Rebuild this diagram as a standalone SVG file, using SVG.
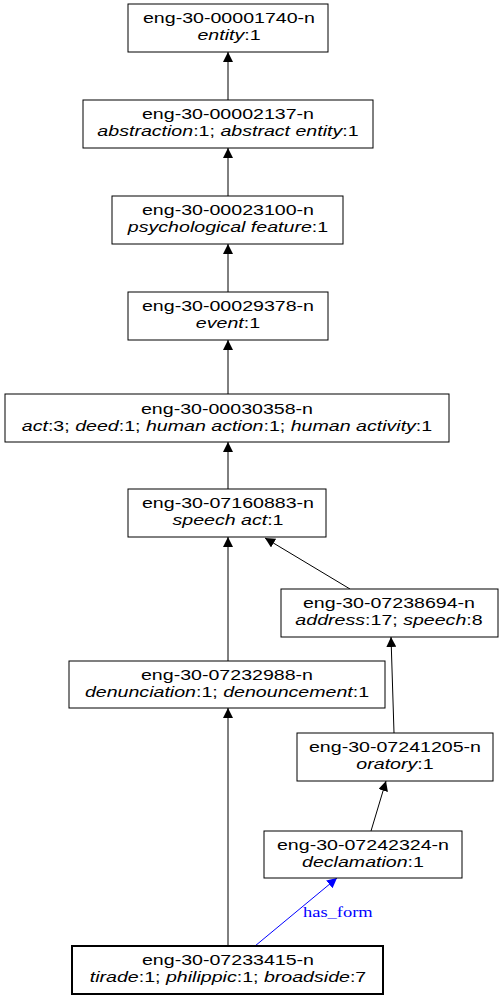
<svg xmlns="http://www.w3.org/2000/svg" width="504" height="1000" viewBox="0 0 504 1000">
<style>
.box{fill:#fff;stroke:#000;stroke-width:1}
.bold{stroke-width:2}
text{font-family:"Liberation Sans",Arial,sans-serif;font-size:14px;text-anchor:middle;fill:#000}
.i{font-style:italic}
.e{stroke:#000;stroke-width:1;fill:none}
.blue{stroke:#0000ff}
.lbl{font-family:"Liberation Serif","Times New Roman",serif;fill:#0000ff;font-size:14px;text-anchor:start}
</style>
<defs>
<marker id="ah" markerUnits="userSpaceOnUse" markerWidth="12" markerHeight="10" refX="10" refY="5" orient="auto">
<path d="M0,0 L10,5 L0,10 z" fill="#000"/>
</marker>
<marker id="ahb" markerUnits="userSpaceOnUse" markerWidth="12" markerHeight="10" refX="10" refY="5" orient="auto">
<path d="M0,0 L10,5 L0,10 z" fill="#0000ff"/>
</marker>
</defs>
<g id="edges">
<line class="e" x1="228" y1="100" x2="228" y2="52" marker-end="url(#ah)"/>
<line class="e" x1="228" y1="196" x2="228" y2="148" marker-end="url(#ah)"/>
<line class="e" x1="228" y1="292" x2="228" y2="244" marker-end="url(#ah)"/>
<line class="e" x1="228" y1="394" x2="228" y2="340" marker-end="url(#ah)"/>
<line class="e" x1="228" y1="489" x2="228" y2="442" marker-end="url(#ah)"/>
<line class="e" x1="350" y1="589" x2="265" y2="538" marker-end="url(#ah)"/>
<line class="e" x1="228" y1="661" x2="228" y2="537" marker-end="url(#ah)"/>
<line class="e" x1="394" y1="733" x2="391" y2="637" marker-end="url(#ah)"/>
<line class="e" x1="371" y1="831" x2="386" y2="781" marker-end="url(#ah)"/>
<line class="e" x1="228" y1="946" x2="228" y2="708" marker-end="url(#ah)"/>
<line class="e blue" x1="255" y1="946" x2="337" y2="878" marker-end="url(#ahb)"/>
<text class="lbl" transform="translate(303,917) scale(1.32,1)">has_form</text>
</g>
<g id="n00001740">
<rect class="box" x="128" y="4" width="200" height="48"/>
<g transform="translate(229,0) scale(1.4,1)">
<text x="0" y="23">eng-30-00001740-n</text>
<text x="0" y="40"><tspan class="i">entity</tspan>:1</text>
</g>
</g>
<g id="n00002137">
<rect class="box" x="83" y="100" width="290" height="48"/>
<g transform="translate(228,0) scale(1.4,1)">
<text x="0" y="119">eng-30-00002137-n</text>
<text x="0" y="136"><tspan class="i">abstraction</tspan>:1; <tspan class="i">abstract entity</tspan>:1</text>
</g>
</g>
<g id="n00023100">
<rect class="box" x="112" y="196" width="231" height="48"/>
<g transform="translate(228,0) scale(1.4,1)">
<text x="0" y="215">eng-30-00023100-n</text>
<text x="0" y="232"><tspan class="i">psychological feature</tspan>:1</text>
</g>
</g>
<g id="n00029378">
<rect class="box" x="128" y="292" width="200" height="48"/>
<g transform="translate(228,0) scale(1.4,1)">
<text x="0" y="311">eng-30-00029378-n</text>
<text x="0" y="328"><tspan class="i">event</tspan>:1</text>
</g>
</g>
<g id="n00030358">
<rect class="box" x="5" y="394" width="444" height="48"/>
<g transform="translate(227,0) scale(1.4,1)">
<text x="0" y="414">eng-30-00030358-n</text>
<text x="0" y="431"><tspan class="i">act</tspan>:3; <tspan class="i">deed</tspan>:1; <tspan class="i">human action</tspan>:1; <tspan class="i">human activity</tspan>:1</text>
</g>
</g>
<g id="n07160883">
<rect class="box" x="128" y="489" width="198" height="48"/>
<g transform="translate(228,0) scale(1.4,1)">
<text x="0" y="508">eng-30-07160883-n</text>
<text x="0" y="525"><tspan class="i">speech act</tspan>:1</text>
</g>
</g>
<g id="n07238694">
<rect class="box" x="281" y="589" width="217" height="48"/>
<g transform="translate(389,0) scale(1.4,1)">
<text x="0" y="608">eng-30-07238694-n</text>
<text x="0" y="625"><tspan class="i">address</tspan>:17; <tspan class="i">speech</tspan>:8</text>
</g>
</g>
<g id="n07232988">
<rect class="box" x="69" y="661" width="316" height="47"/>
<g transform="translate(227,0) scale(1.4,1)">
<text x="0" y="680">eng-30-07232988-n</text>
<text x="0" y="697"><tspan class="i">denunciation</tspan>:1; <tspan class="i">denouncement</tspan>:1</text>
</g>
</g>
<g id="n07241205">
<rect class="box" x="297" y="733" width="196" height="48"/>
<g transform="translate(395,0) scale(1.4,1)">
<text x="0" y="752">eng-30-07241205-n</text>
<text x="0" y="769"><tspan class="i">oratory</tspan>:1</text>
</g>
</g>
<g id="n07242324">
<rect class="box" x="264" y="831" width="198" height="47"/>
<g transform="translate(363,0) scale(1.4,1)">
<text x="0" y="850">eng-30-07242324-n</text>
<text x="0" y="867"><tspan class="i">declamation</tspan>:1</text>
</g>
</g>
<g id="n07233415">
<rect class="box bold" x="72" y="946" width="311" height="48"/>
<g transform="translate(228,0) scale(1.4,1)">
<text x="0" y="965">eng-30-07233415-n</text>
<text x="0" y="982"><tspan class="i">tirade</tspan>:1; <tspan class="i">philippic</tspan>:1; <tspan class="i">broadside</tspan>:7</text>
</g>
</g>
</svg>
